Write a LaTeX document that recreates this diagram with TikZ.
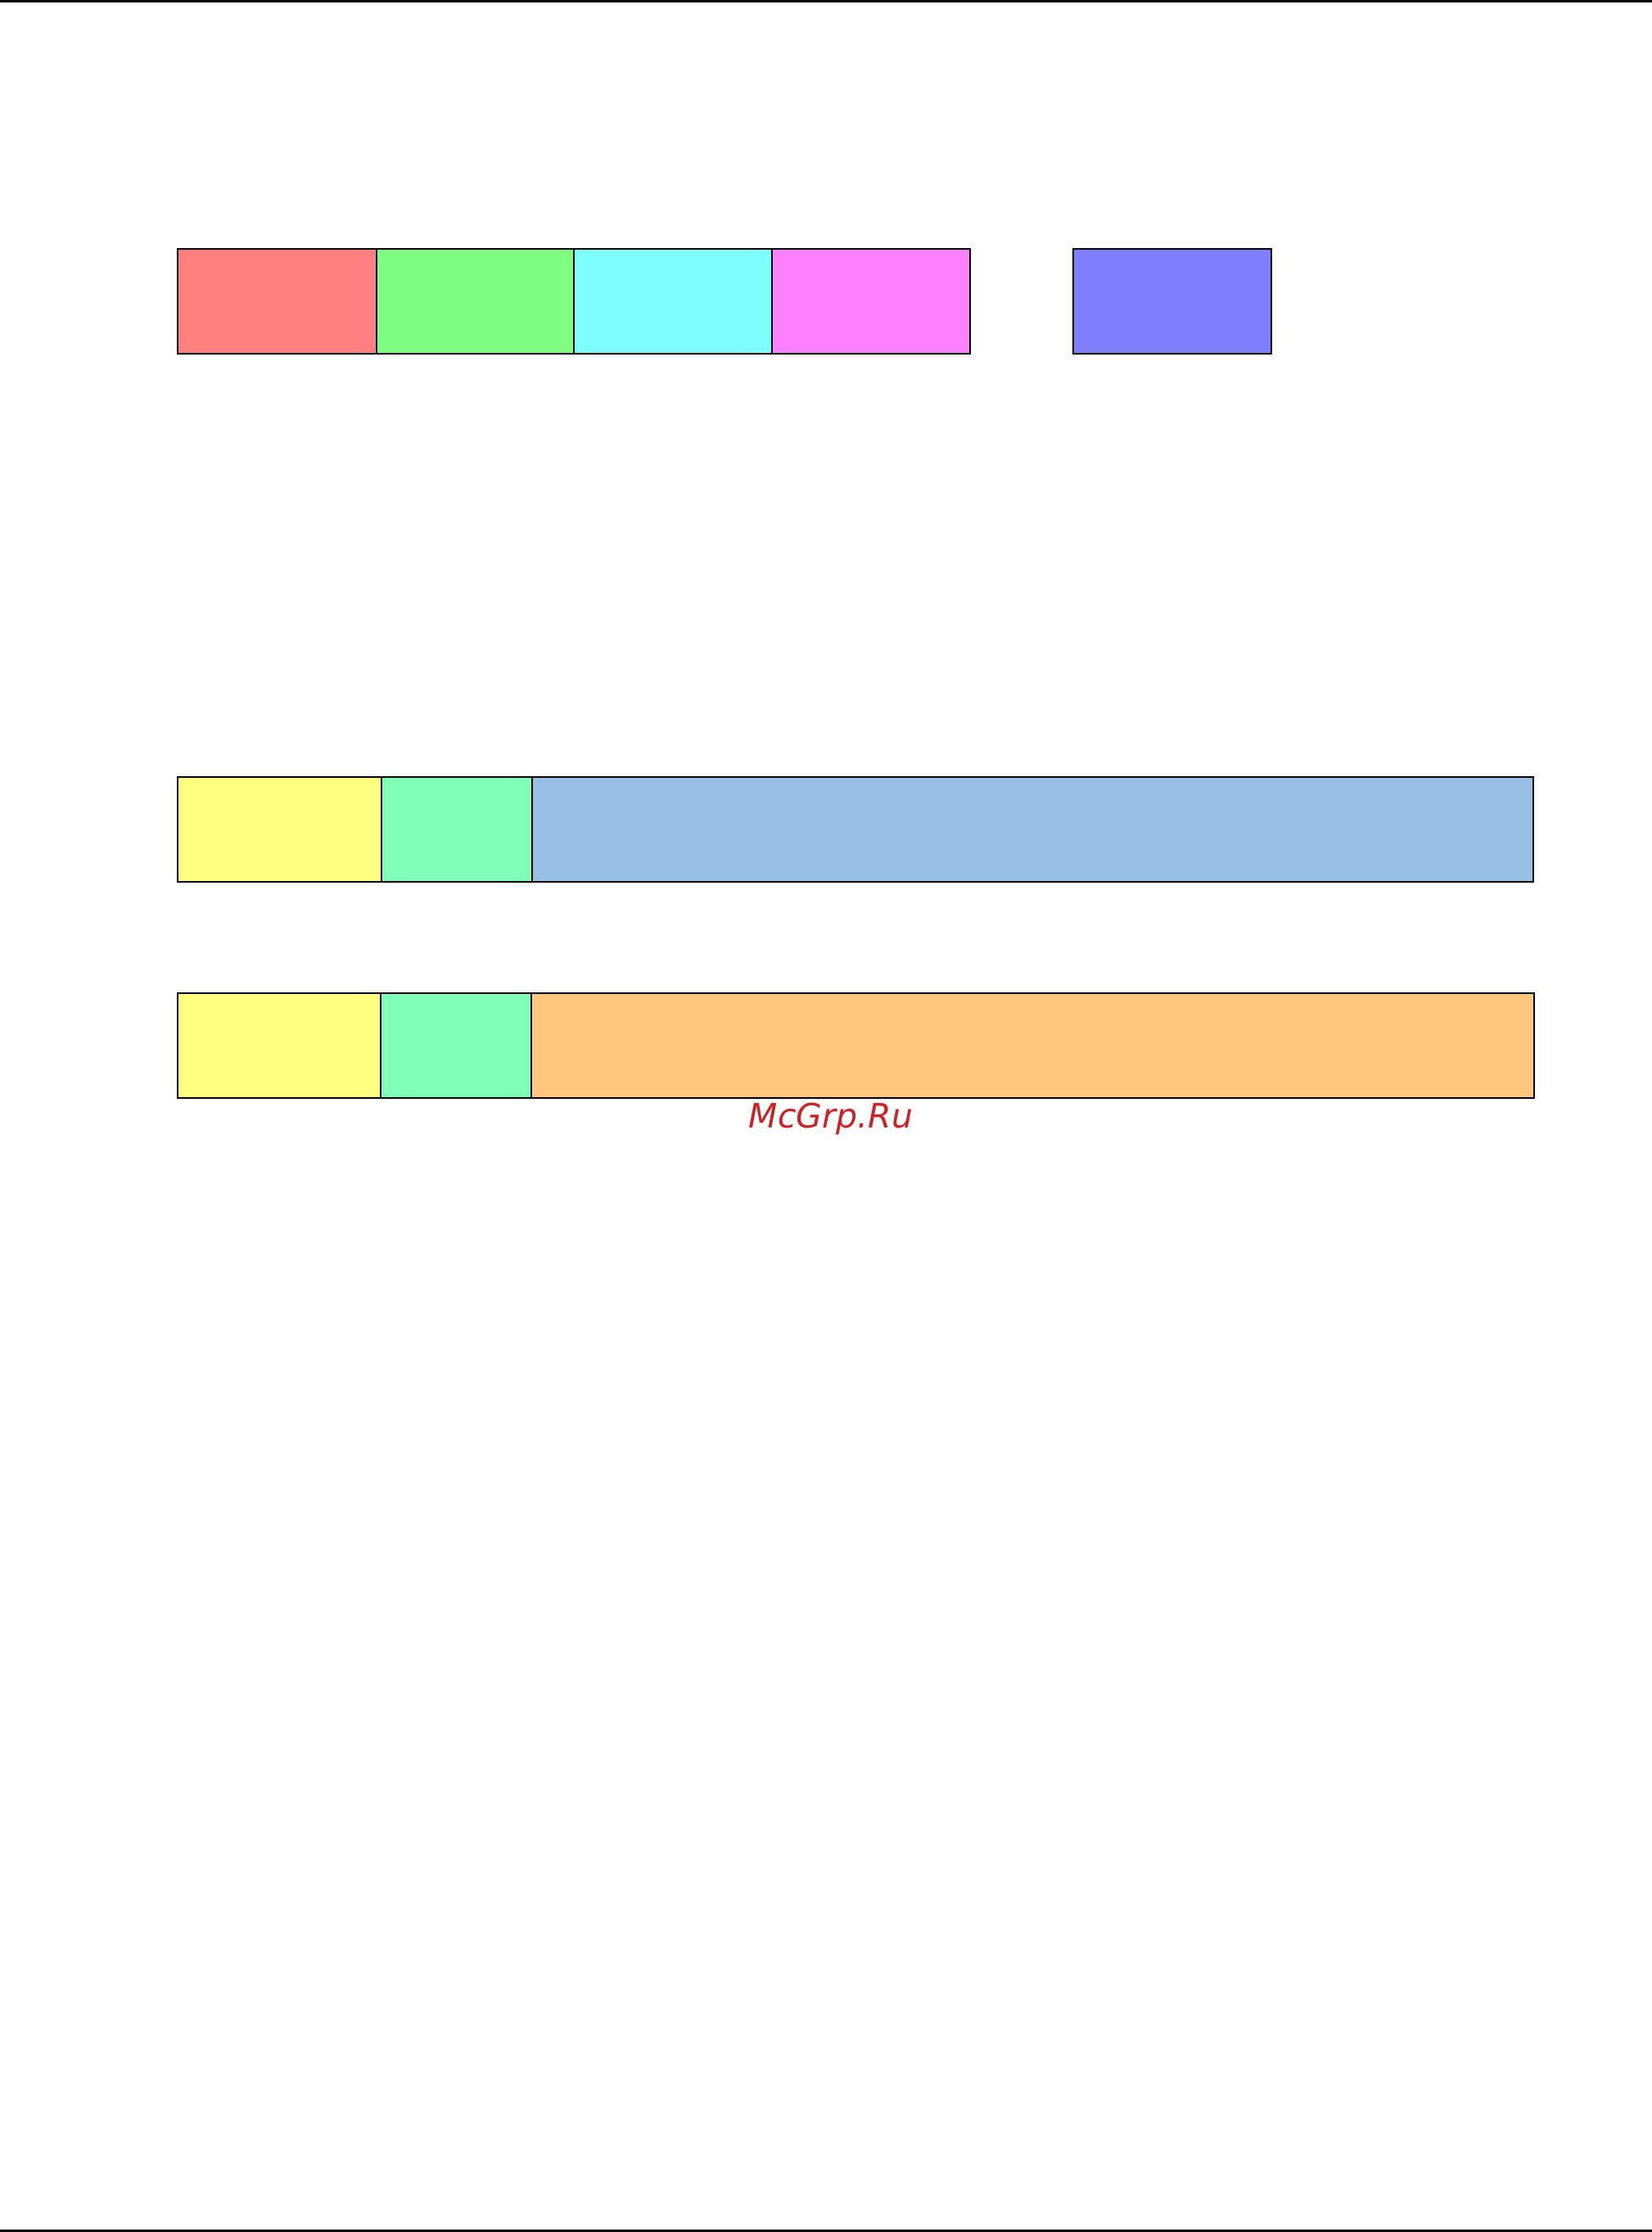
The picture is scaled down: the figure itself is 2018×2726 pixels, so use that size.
\documentclass[tikz,border=0pt]{standalone}
\usepackage{fontspec}
\newfontfamily\wmfont{DejaVu Sans}
\definecolor{cred}{RGB}{255,128,128}
\definecolor{cgreen}{RGB}{128,255,128}
\definecolor{ccyan}{RGB}{128,255,255}
\definecolor{cmag}{RGB}{255,128,255}
\definecolor{cblue}{RGB}{128,128,255}
\definecolor{cyel}{RGB}{255,255,128}
\definecolor{cmint}{RGB}{128,255,185}
\definecolor{csky}{RGB}{153,191,229}
\definecolor{corange}{RGB}{255,198,128}
\definecolor{wmred}{RGB}{204,34,38}
\begin{document}
\begin{tikzpicture}[x=0.3pt,y=-0.3pt,
  cell/.style={draw=black, line width=0.5pt, rectangle, inner sep=0pt, outer sep=0pt, anchor=north west, minimum height=128*0.3pt},
  rule/.style={line width=0.75pt}]
\useasboundingbox (0,0) rectangle (2018,2726);
% top and bottom rules
\coordinate (tl) at (0,1.5);
\coordinate (tr) at (2018,1.5);
\coordinate (bl) at (0,2724.5);
\coordinate (br) at (2018,2724.5);
\draw[rule] (tl) -- (tr);
\draw[rule] (bl) -- (br);
% row 1
\node[cell, fill=cred,   minimum width=243*0.3pt] (a1) at (217,304) {};
\node[cell, fill=cgreen, minimum width=241*0.3pt] (a2) at (460,304) {};
\node[cell, fill=ccyan,  minimum width=242*0.3pt] (a3) at (701,304) {};
\node[cell, fill=cmag,   minimum width=242*0.3pt] (a4) at (943,304) {};
\node[cell, fill=cblue,  minimum width=242*0.3pt] (a5) at (1311,304) {};
% row 2
\node[cell, fill=cyel,  minimum width=249*0.3pt] (b1) at (217,949) {};
\node[cell, fill=cmint, minimum width=184*0.3pt] (b2) at (466,949) {};
\node[cell, fill=csky,  minimum width=1223*0.3pt] (b3) at (650,949) {};
% row 3
\node[cell, fill=cyel,    minimum width=248*0.3pt] (c1) at (217,1213) {};
\node[cell, fill=cmint,   minimum width=184*0.3pt] (c2) at (465,1213) {};
\node[cell, fill=corange, minimum width=1225*0.3pt] (c3) at (649,1213) {};
% watermark
\node[anchor=base, inner sep=0pt, text=wmred, font=\wmfont\itshape\fontsize{12.3pt}{14pt}\selectfont] (wm) at (1015,1377) {McGrp.Ru};
\end{tikzpicture}
\end{document}
